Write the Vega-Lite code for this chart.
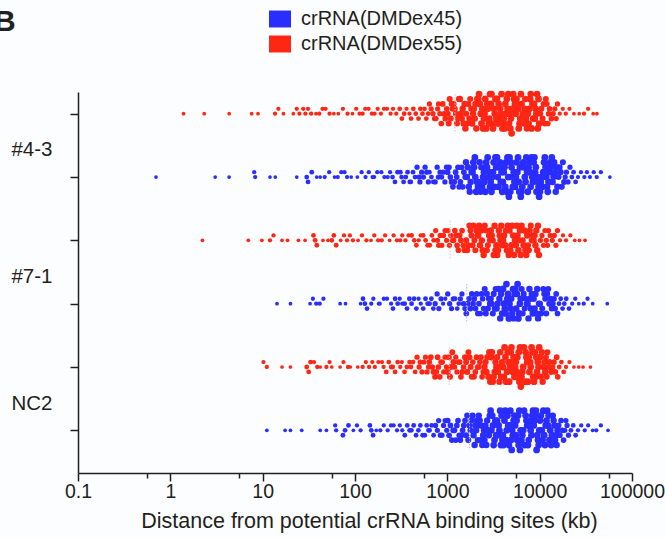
{
"$schema":"https://vega.github.io/schema/vega-lite/v6.json",
"width":554,"height":381,
"autosize":{"type":"none"},
"padding":{"left":78,"top":92,"right":33,"bottom":64},
"background":"#fcfdff",
"config":{"font":"Liberation Sans","view":{"stroke":null}},
"title":{"text":"B","anchor":"start","frame":"group","fontSize":30,"fontWeight":"bold","color":"#231f20","dx":-84,"dy":36,"offset":-23,"baseline":"bottom"},
"datasets":{
"r1":[{"kb":1.39},{"kb":2.33},{"kb":4.34},{"kb":7.6},{"kb":8.9},{"kb":13.6},{"kb":14.8},{"kb":16.8},{"kb":21.5},{"kb":23.4},{"kb":25},{"kb":27.5},{"kb":29},{"kb":31},{"kb":33.5},{"kb":37.8},{"kb":41},{"kb":44.5},{"kb":48},{"kb":53},{"kb":59},{"kb":66},{"kb":74},{"kb":83},{"kb":94},{"kb":103},{"kb":112},{"kb":121},{"kb":129},{"kb":140},{"kb":152},{"kb":163},{"kb":176},{"kb":191},{"kb":206},{"kb":222},{"kb":243},{"kb":258},{"kb":280},{"kb":305},{"kb":322},{"kb":341},{"kb":362},{"kb":389},{"kb":405},{"kb":428},{"kb":455},{"kb":487},{"kb":510},{"kb":538},{"kb":566},{"kb":592},{"kb":620},{"kb":640},{"kb":668},{"kb":699},{"kb":727},{"kb":755},{"kb":786},{"kb":802},{"kb":830},{"kb":861},{"kb":893},{"kb":921},{"kb":950},{"kb":985},{"kb":1012},{"kb":1035},{"kb":1061},{"kb":1089},{"kb":1115},{"kb":1142},{"kb":1170},{"kb":1203},{"kb":1238},{"kb":1270},{"kb":1302},{"kb":1335},{"kb":1367},{"kb":1400},{"kb":1433},{"kb":1468},{"kb":1502},{"kb":1537},{"kb":1570},{"kb":1600},{"kb":1645},{"kb":1690},{"kb":1725},{"kb":1770},{"kb":1812},{"kb":1858},{"kb":1900},{"kb":1942},{"kb":1985},{"kb":2015},{"kb":2062},{"kb":2110},{"kb":2158},{"kb":2205},{"kb":2250},{"kb":2300},{"kb":2345},{"kb":2395},{"kb":2440},{"kb":2490},{"kb":2530},{"kb":2575},{"kb":2640},{"kb":2702},{"kb":2738},{"kb":2810},{"kb":2846},{"kb":2905},{"kb":2968},{"kb":3005},{"kb":3081},{"kb":3127},{"kb":3190},{"kb":3260},{"kb":3320},{"kb":3390},{"kb":3450},{"kb":3520},{"kb":3590},{"kb":3660},{"kb":3730},{"kb":3800},{"kb":3870},{"kb":3950},{"kb":4010},{"kb":4090},{"kb":4170},{"kb":4250},{"kb":4330},{"kb":4410},{"kb":4490},{"kb":4570},{"kb":4650},{"kb":4730},{"kb":4810},{"kb":4890},{"kb":4970},{"kb":5060},{"kb":5170},{"kb":5280},{"kb":5390},{"kb":5500},{"kb":5610},{"kb":5720},{"kb":5830},{"kb":5940},{"kb":6050},{"kb":6160},{"kb":6270},{"kb":6380},{"kb":6530},{"kb":6680},{"kb":6830},{"kb":6980},{"kb":7130},{"kb":7280},{"kb":7430},{"kb":7580},{"kb":7730},{"kb":7880},{"kb":8010},{"kb":8180},{"kb":8350},{"kb":8520},{"kb":8690},{"kb":8860},{"kb":9030},{"kb":9200},{"kb":9370},{"kb":9540},{"kb":9710},{"kb":9880},{"kb":10150},{"kb":10450},{"kb":10750},{"kb":11050},{"kb":11350},{"kb":11650},{"kb":11950},{"kb":12250},{"kb":12500},{"kb":12800},{"kb":13400},{"kb":14000},{"kb":14600},{"kb":15100},{"kb":15600},{"kb":16500},{"kb":17800},{"kb":19200},{"kb":21000},{"kb":23500},{"kb":26800},{"kb":30200},{"kb":33500},{"kb":38000},{"kb":41700}],
"r2":[{"kb":0.7},{"kb":3.06},{"kb":4.33},{"kb":8.1},{"kb":8.3},{"kb":12},{"kb":13.7},{"kb":23.4},{"kb":30},{"kb":31},{"kb":34},{"kb":38.5},{"kb":42},{"kb":47},{"kb":52.5},{"kb":60},{"kb":65},{"kb":71},{"kb":77},{"kb":82},{"kb":91},{"kb":106},{"kb":118},{"kb":130},{"kb":141},{"kb":155},{"kb":161},{"kb":174},{"kb":193},{"kb":208},{"kb":226},{"kb":240},{"kb":255},{"kb":271},{"kb":289},{"kb":310},{"kb":320},{"kb":336},{"kb":355},{"kb":371},{"kb":392},{"kb":402},{"kb":425},{"kb":447},{"kb":470},{"kb":494},{"kb":505},{"kb":527},{"kb":551},{"kb":574},{"kb":598},{"kb":623},{"kb":640},{"kb":673},{"kb":705},{"kb":738},{"kb":776},{"kb":800},{"kb":834},{"kb":868},{"kb":902},{"kb":941},{"kb":979},{"kb":1008},{"kb":1042},{"kb":1078},{"kb":1112},{"kb":1150},{"kb":1189},{"kb":1230},{"kb":1265},{"kb":1305},{"kb":1344},{"kb":1385},{"kb":1428},{"kb":1470},{"kb":1512},{"kb":1560},{"kb":1592},{"kb":1630},{"kb":1668},{"kb":1710},{"kb":1748},{"kb":1790},{"kb":1830},{"kb":1872},{"kb":1915},{"kb":1950},{"kb":1988},{"kb":2008},{"kb":2054},{"kb":2098},{"kb":2150},{"kb":2195},{"kb":2240},{"kb":2292},{"kb":2338},{"kb":2385},{"kb":2430},{"kb":2482},{"kb":2520},{"kb":2580},{"kb":2628},{"kb":2685},{"kb":2735},{"kb":2790},{"kb":2842},{"kb":2898},{"kb":2950},{"kb":3005},{"kb":3060},{"kb":3120},{"kb":3175},{"kb":3245},{"kb":3318},{"kb":3380},{"kb":3448},{"kb":3512},{"kb":3584},{"kb":3650},{"kb":3722},{"kb":3790},{"kb":3864},{"kb":3935},{"kb":3995},{"kb":4078},{"kb":4160},{"kb":4238},{"kb":4320},{"kb":4402},{"kb":4480},{"kb":4565},{"kb":4640},{"kb":4722},{"kb":4805},{"kb":4880},{"kb":4960},{"kb":5030},{"kb":5125},{"kb":5230},{"kb":5330},{"kb":5425},{"kb":5530},{"kb":5625},{"kb":5730},{"kb":5828},{"kb":5930},{"kb":6025},{"kb":6130},{"kb":6240},{"kb":6350},{"kb":6490},{"kb":6620},{"kb":6760},{"kb":6900},{"kb":7030},{"kb":7170},{"kb":7300},{"kb":7440},{"kb":7580},{"kb":7710},{"kb":7860},{"kb":7980},{"kb":8140},{"kb":8300},{"kb":8450},{"kb":8610},{"kb":8770},{"kb":8930},{"kb":9090},{"kb":9240},{"kb":9400},{"kb":9560},{"kb":9720},{"kb":9870},{"kb":10080},{"kb":10290},{"kb":10500},{"kb":10720},{"kb":10930},{"kb":11150},{"kb":11370},{"kb":11590},{"kb":11800},{"kb":12020},{"kb":12240},{"kb":12460},{"kb":12700},{"kb":12980},{"kb":13260},{"kb":13540},{"kb":13820},{"kb":14100},{"kb":14380},{"kb":14660},{"kb":14940},{"kb":15220},{"kb":15550},{"kb":16000},{"kb":16450},{"kb":16900},{"kb":17350},{"kb":17850},{"kb":18400},{"kb":18900},{"kb":19500},{"kb":20300},{"kb":21300},{"kb":22300},{"kb":23300},{"kb":24500},{"kb":26000},{"kb":28000},{"kb":30500},{"kb":32500},{"kb":35000},{"kb":38500},{"kb":41500},{"kb":46000},{"kb":57600}],
"r3":[{"kb":2.23},{"kb":7},{"kb":9.8},{"kb":12},{"kb":13.1},{"kb":16.2},{"kb":18.6},{"kb":24.4},{"kb":28.8},{"kb":35.5},{"kb":37},{"kb":38.6},{"kb":45},{"kb":51},{"kb":56},{"kb":59},{"kb":62.5},{"kb":70},{"kb":76},{"kb":82},{"kb":88},{"kb":95},{"kb":108},{"kb":119},{"kb":133},{"kb":149},{"kb":162},{"kb":178},{"kb":195},{"kb":212},{"kb":237},{"kb":262},{"kb":284},{"kb":308},{"kb":325},{"kb":352},{"kb":380},{"kb":410},{"kb":438},{"kb":462},{"kb":490},{"kb":515},{"kb":547},{"kb":582},{"kb":612},{"kb":645},{"kb":680},{"kb":712},{"kb":748},{"kb":782},{"kb":805},{"kb":838},{"kb":872},{"kb":908},{"kb":945},{"kb":982},{"kb":1015},{"kb":1055},{"kb":1090},{"kb":1130},{"kb":1168},{"kb":1205},{"kb":1245},{"kb":1275},{"kb":1318},{"kb":1360},{"kb":1400},{"kb":1445},{"kb":1490},{"kb":1535},{"kb":1600},{"kb":1645},{"kb":1690},{"kb":1735},{"kb":1780},{"kb":1825},{"kb":1872},{"kb":1918},{"kb":1965},{"kb":2010},{"kb":2058},{"kb":2108},{"kb":2160},{"kb":2210},{"kb":2260},{"kb":2312},{"kb":2365},{"kb":2420},{"kb":2475},{"kb":2545},{"kb":2615},{"kb":2680},{"kb":2750},{"kb":2820},{"kb":2890},{"kb":2960},{"kb":3030},{"kb":3100},{"kb":3180},{"kb":3250},{"kb":3320},{"kb":3395},{"kb":3470},{"kb":3540},{"kb":3615},{"kb":3690},{"kb":3765},{"kb":3840},{"kb":3920},{"kb":4020},{"kb":4120},{"kb":4220},{"kb":4320},{"kb":4420},{"kb":4520},{"kb":4620},{"kb":4720},{"kb":4820},{"kb":4930},{"kb":5050},{"kb":5165},{"kb":5280},{"kb":5400},{"kb":5520},{"kb":5640},{"kb":5760},{"kb":5880},{"kb":6000},{"kb":6120},{"kb":6240},{"kb":6370},{"kb":6530},{"kb":6690},{"kb":6850},{"kb":7010},{"kb":7170},{"kb":7330},{"kb":7490},{"kb":7650},{"kb":7820},{"kb":8010},{"kb":8200},{"kb":8400},{"kb":8600},{"kb":8800},{"kb":9000},{"kb":9200},{"kb":9400},{"kb":9600},{"kb":9820},{"kb":10200},{"kb":10600},{"kb":11000},{"kb":11400},{"kb":11800},{"kb":12150},{"kb":12450},{"kb":13000},{"kb":13700},{"kb":14400},{"kb":15000},{"kb":15600},{"kb":16600},{"kb":17900},{"kb":19300},{"kb":21500},{"kb":24000},{"kb":27000},{"kb":31000}],
"r4":[{"kb":14.3},{"kb":20},{"kb":32.6},{"kb":35},{"kb":38},{"kb":41.5},{"kb":45.5},{"kb":69},{"kb":79},{"kb":115},{"kb":122},{"kb":128},{"kb":135},{"kb":150},{"kb":158},{"kb":180},{"kb":185},{"kb":205},{"kb":222},{"kb":246},{"kb":258},{"kb":272},{"kb":290},{"kb":305},{"kb":325},{"kb":345},{"kb":366},{"kb":388},{"kb":410},{"kb":436},{"kb":462},{"kb":488},{"kb":515},{"kb":548},{"kb":580},{"kb":612},{"kb":642},{"kb":672},{"kb":705},{"kb":738},{"kb":775},{"kb":810},{"kb":855},{"kb":900},{"kb":950},{"kb":1010},{"kb":1060},{"kb":1110},{"kb":1160},{"kb":1215},{"kb":1280},{"kb":1330},{"kb":1385},{"kb":1440},{"kb":1495},{"kb":1550},{"kb":1605},{"kb":1660},{"kb":1720},{"kb":1780},{"kb":1840},{"kb":1900},{"kb":1960},{"kb":2020},{"kb":2080},{"kb":2140},{"kb":2200},{"kb":2270},{"kb":2340},{"kb":2410},{"kb":2475},{"kb":2540},{"kb":2610},{"kb":2680},{"kb":2750},{"kb":2820},{"kb":2890},{"kb":2960},{"kb":3030},{"kb":3110},{"kb":3180},{"kb":3260},{"kb":3340},{"kb":3420},{"kb":3500},{"kb":3580},{"kb":3660},{"kb":3740},{"kb":3820},{"kb":3920},{"kb":4010},{"kb":4100},{"kb":4190},{"kb":4280},{"kb":4370},{"kb":4460},{"kb":4550},{"kb":4640},{"kb":4730},{"kb":4820},{"kb":4930},{"kb":5040},{"kb":5140},{"kb":5240},{"kb":5350},{"kb":5450},{"kb":5560},{"kb":5660},{"kb":5770},{"kb":5880},{"kb":5990},{"kb":6100},{"kb":6230},{"kb":6380},{"kb":6550},{"kb":6720},{"kb":6890},{"kb":7060},{"kb":7230},{"kb":7400},{"kb":7570},{"kb":7740},{"kb":7890},{"kb":8010},{"kb":8210},{"kb":8410},{"kb":8610},{"kb":8810},{"kb":9010},{"kb":9210},{"kb":9410},{"kb":9610},{"kb":9830},{"kb":10100},{"kb":10380},{"kb":10660},{"kb":10940},{"kb":11220},{"kb":11500},{"kb":11780},{"kb":12060},{"kb":12380},{"kb":12700},{"kb":13100},{"kb":13500},{"kb":13900},{"kb":14300},{"kb":14700},{"kb":15100},{"kb":15600},{"kb":16200},{"kb":16900},{"kb":17700},{"kb":18500},{"kb":19400},{"kb":20800},{"kb":22500},{"kb":24300},{"kb":26500},{"kb":30000},{"kb":33000},{"kb":37500},{"kb":54000}],
"r5":[{"kb":10.2},{"kb":11.1},{"kb":16.2},{"kb":20},{"kb":30},{"kb":31.5},{"kb":33},{"kb":36},{"kb":39},{"kb":42},{"kb":49},{"kb":53},{"kb":56},{"kb":69},{"kb":75},{"kb":84},{"kb":89},{"kb":107},{"kb":121},{"kb":131},{"kb":142},{"kb":154},{"kb":164},{"kb":179},{"kb":196},{"kb":204},{"kb":218},{"kb":232},{"kb":247},{"kb":256},{"kb":272},{"kb":290},{"kb":309},{"kb":322},{"kb":344},{"kb":365},{"kb":390},{"kb":404},{"kb":425},{"kb":448},{"kb":470},{"kb":495},{"kb":508},{"kb":532},{"kb":556},{"kb":580},{"kb":603},{"kb":626},{"kb":638},{"kb":662},{"kb":686},{"kb":710},{"kb":735},{"kb":760},{"kb":785},{"kb":800},{"kb":828},{"kb":856},{"kb":885},{"kb":915},{"kb":945},{"kb":978},{"kb":1008},{"kb":1038},{"kb":1068},{"kb":1100},{"kb":1132},{"kb":1165},{"kb":1198},{"kb":1235},{"kb":1270},{"kb":1315},{"kb":1360},{"kb":1405},{"kb":1450},{"kb":1500},{"kb":1550},{"kb":1598},{"kb":1645},{"kb":1692},{"kb":1740},{"kb":1790},{"kb":1840},{"kb":1890},{"kb":1948},{"kb":2010},{"kb":2070},{"kb":2130},{"kb":2190},{"kb":2250},{"kb":2315},{"kb":2380},{"kb":2450},{"kb":2525},{"kb":2590},{"kb":2655},{"kb":2720},{"kb":2785},{"kb":2850},{"kb":2915},{"kb":2980},{"kb":3045},{"kb":3110},{"kb":3180},{"kb":3250},{"kb":3320},{"kb":3390},{"kb":3460},{"kb":3530},{"kb":3600},{"kb":3670},{"kb":3740},{"kb":3810},{"kb":3900},{"kb":4000},{"kb":4085},{"kb":4170},{"kb":4255},{"kb":4340},{"kb":4425},{"kb":4510},{"kb":4595},{"kb":4680},{"kb":4765},{"kb":4850},{"kb":4940},{"kb":5030},{"kb":5130},{"kb":5230},{"kb":5330},{"kb":5430},{"kb":5530},{"kb":5630},{"kb":5730},{"kb":5830},{"kb":5930},{"kb":6030},{"kb":6130},{"kb":6250},{"kb":6350},{"kb":6490},{"kb":6630},{"kb":6770},{"kb":6910},{"kb":7050},{"kb":7190},{"kb":7330},{"kb":7470},{"kb":7610},{"kb":7750},{"kb":7890},{"kb":8000},{"kb":8170},{"kb":8340},{"kb":8510},{"kb":8680},{"kb":8850},{"kb":9020},{"kb":9190},{"kb":9360},{"kb":9530},{"kb":9700},{"kb":9880},{"kb":10080},{"kb":10310},{"kb":10540},{"kb":10770},{"kb":11000},{"kb":11230},{"kb":11460},{"kb":11690},{"kb":11920},{"kb":12150},{"kb":12400},{"kb":12800},{"kb":13300},{"kb":13800},{"kb":14300},{"kb":14800},{"kb":15300},{"kb":15700},{"kb":16300},{"kb":17200},{"kb":18200},{"kb":19300},{"kb":21000},{"kb":23500},{"kb":26500},{"kb":29500},{"kb":35500}],
"r6":[{"kb":11.1},{"kb":17.5},{"kb":20},{"kb":26.5},{"kb":42},{"kb":49},{"kb":61},{"kb":62.5},{"kb":74},{"kb":78},{"kb":85},{"kb":96},{"kb":105},{"kb":115},{"kb":145},{"kb":150},{"kb":157},{"kb":170},{"kb":188},{"kb":205},{"kb":226},{"kb":245},{"kb":262},{"kb":285},{"kb":306},{"kb":325},{"kb":346},{"kb":368},{"kb":390},{"kb":408},{"kb":432},{"kb":458},{"kb":486},{"kb":510},{"kb":540},{"kb":570},{"kb":598},{"kb":625},{"kb":642},{"kb":676},{"kb":710},{"kb":745},{"kb":780},{"kb":805},{"kb":840},{"kb":875},{"kb":910},{"kb":948},{"kb":985},{"kb":1010},{"kb":1045},{"kb":1080},{"kb":1118},{"kb":1155},{"kb":1195},{"kb":1235},{"kb":1268},{"kb":1305},{"kb":1345},{"kb":1385},{"kb":1425},{"kb":1465},{"kb":1508},{"kb":1555},{"kb":1595},{"kb":1640},{"kb":1685},{"kb":1730},{"kb":1778},{"kb":1825},{"kb":1875},{"kb":1925},{"kb":1975},{"kb":2008},{"kb":2052},{"kb":2098},{"kb":2145},{"kb":2192},{"kb":2240},{"kb":2290},{"kb":2340},{"kb":2392},{"kb":2442},{"kb":2495},{"kb":2528},{"kb":2586},{"kb":2644},{"kb":2702},{"kb":2760},{"kb":2820},{"kb":2880},{"kb":2940},{"kb":3000},{"kb":3062},{"kb":3125},{"kb":3175},{"kb":3245},{"kb":3315},{"kb":3385},{"kb":3455},{"kb":3525},{"kb":3595},{"kb":3665},{"kb":3735},{"kb":3805},{"kb":3875},{"kb":3950},{"kb":3995},{"kb":4075},{"kb":4155},{"kb":4235},{"kb":4320},{"kb":4400},{"kb":4480},{"kb":4565},{"kb":4645},{"kb":4725},{"kb":4810},{"kb":4890},{"kb":4975},{"kb":5030},{"kb":5125},{"kb":5225},{"kb":5320},{"kb":5420},{"kb":5520},{"kb":5620},{"kb":5720},{"kb":5820},{"kb":5920},{"kb":6020},{"kb":6120},{"kb":6230},{"kb":6350},{"kb":6490},{"kb":6630},{"kb":6770},{"kb":6910},{"kb":7050},{"kb":7190},{"kb":7330},{"kb":7470},{"kb":7610},{"kb":7750},{"kb":7880},{"kb":7990},{"kb":8150},{"kb":8310},{"kb":8470},{"kb":8630},{"kb":8790},{"kb":8950},{"kb":9110},{"kb":9270},{"kb":9430},{"kb":9590},{"kb":9750},{"kb":9900},{"kb":10090},{"kb":10310},{"kb":10530},{"kb":10750},{"kb":10970},{"kb":11190},{"kb":11410},{"kb":11630},{"kb":11850},{"kb":12070},{"kb":12290},{"kb":12510},{"kb":12750},{"kb":13030},{"kb":13310},{"kb":13590},{"kb":13870},{"kb":14150},{"kb":14430},{"kb":14710},{"kb":14990},{"kb":15270},{"kb":15600},{"kb":16050},{"kb":16550},{"kb":17050},{"kb":17600},{"kb":18150},{"kb":18700},{"kb":19250},{"kb":19800},{"kb":20500},{"kb":21800},{"kb":23100},{"kb":24500},{"kb":26000},{"kb":28200},{"kb":30800},{"kb":33500},{"kb":37500},{"kb":41000},{"kb":46000},{"kb":55000}],
"med":[{"row":1,"kb":1210},{"row":3,"kb":1070},{"row":4,"kb":1620},{"row":5,"kb":1050},{"row":6,"kb":1740}]
},
"layer":[
{"mark":{"type":"rule","color":"#6cc47c","strokeWidth":2},"encoding":{"x":{"datum":5.4,"type":"quantitative"}}},
{"encoding":{
 "x":{"field":"kb","type":"quantitative","scale":{"type":"log","domain":[0.1,100000],"nice":false},
  "axis":{"values":[0.1,0.557,1,5.57,10,55.7,100,557,1000,5570,10000,55700,100000],
   "labelExpr":"abs(log(datum.value)/LN10-round(log(datum.value)/LN10))<0.01 ? ''+datum.value : ''",
   "tickSize":{"condition":{"test":"abs(log(datum.value)/LN10-round(log(datum.value)/LN10))<0.01","value":8},"value":5},
   "title":"Distance from potential crRNA binding sites (kb)","grid":false,"domainColor":"#231f20","domainWidth":1.5,"tickColor":"#231f20","tickWidth":1.5,
   "labelFontSize":19.5,"labelColor":"#231f20","labelPadding":1,"labelFlush":false,"labelOverlap":false,
   "titleFontSize":21.5,"titleFontWeight":"normal","titleColor":"#231f20","titleX":291,"titleY":54,"titleBaseline":"alphabetic","titleAlign":"center"}},
 "y":{"field":"y","type":"quantitative","scale":{"domain":[0.657,6.674],"reverse":true,"nice":false,"zero":false},
  "axis":{"values":[1,2,3,4,5,6],"labelExpr":"datum.value==1?'#4-3':datum.value==3?'#7-1':datum.value==5?'NC2':''",
   "labelOffset":36,"tickSize":8,"labelPadding":18,"title":null,"grid":false,"domainColor":"#231f20","domainWidth":1.5,"tickColor":"#231f20","tickWidth":1.5,
   "labelFontSize":20.5,"labelColor":"#231f20"}},
 "size":{"field":"n","type":"quantitative","scale":{"domain":[1,8],"range":[14,46],"clamp":true},"legend":null}
 },
 "layer":[
 {"data":{"name":"r1"},"transform":[{"calculate":"floor(log(datum.kb)/LN10*15)","as":"b"},{"calculate":"(datum.kb*7.77)%1","as":"k"},{"joinaggregate":[{"op":"count","as":"n"}],"groupby":["b"]},{"window":[{"op":"row_number","as":"rn"}],"groupby":["b"],"sort":[{"field":"k"}]},{"calculate":"1+(datum.rn%2==1?(datum.rn-1)/2:-datum.rn/2)*0.0774","as":"y"}],
  "mark":{"type":"circle","opacity":1},
  "encoding":{"color":{"datum":"crRNA(DMDex55)","type":"nominal","scale":{"domain":["crRNA(DMDex45)","crRNA(DMDex55)"],"range":["#2a2dff","#ff2614"]},
   "legend":{"orient":"none","legendX":191,"legendY":-84,"title":null,"symbolType":"M-1,-0.77H1V0.77H-1Z","symbolSize":484,"symbolOpacity":1,"symbolStrokeWidth":0,"labelFontSize":20,"labelLimit":400,"labelOffset":10,"rowPadding":4,"labelColor":"#231f20","padding":0}}}},
 {"data":{"name":"r2"},"transform":[{"calculate":"floor(log(datum.kb)/LN10*15)","as":"b"},{"calculate":"(datum.kb*7.77)%1","as":"k"},{"joinaggregate":[{"op":"count","as":"n"}],"groupby":["b"]},{"window":[{"op":"row_number","as":"rn"}],"groupby":["b"],"sort":[{"field":"k"}]},{"calculate":"2+(datum.rn%2==1?(datum.rn-1)/2:-datum.rn/2)*0.0774","as":"y"}],
  "mark":{"type":"circle","opacity":1},"encoding":{"color":{"datum":"crRNA(DMDex45)","type":"nominal"}}},
 {"data":{"name":"r3"},"transform":[{"calculate":"floor(log(datum.kb)/LN10*15)","as":"b"},{"calculate":"(datum.kb*7.77)%1","as":"k"},{"joinaggregate":[{"op":"count","as":"n"}],"groupby":["b"]},{"window":[{"op":"row_number","as":"rn"}],"groupby":["b"],"sort":[{"field":"k"}]},{"calculate":"3+(datum.rn%2==1?(datum.rn-1)/2:-datum.rn/2)*0.0774","as":"y"}],
  "mark":{"type":"circle","opacity":1},"encoding":{"color":{"datum":"crRNA(DMDex55)","type":"nominal"}}},
 {"data":{"name":"r4"},"transform":[{"calculate":"floor(log(datum.kb)/LN10*15)","as":"b"},{"calculate":"(datum.kb*7.77)%1","as":"k"},{"joinaggregate":[{"op":"count","as":"n"}],"groupby":["b"]},{"window":[{"op":"row_number","as":"rn"}],"groupby":["b"],"sort":[{"field":"k"}]},{"calculate":"4+(datum.rn%2==1?(datum.rn-1)/2:-datum.rn/2)*0.0774","as":"y"}],
  "mark":{"type":"circle","opacity":1},"encoding":{"color":{"datum":"crRNA(DMDex45)","type":"nominal"}}},
 {"data":{"name":"r5"},"transform":[{"calculate":"floor(log(datum.kb)/LN10*15)","as":"b"},{"calculate":"(datum.kb*7.77)%1","as":"k"},{"joinaggregate":[{"op":"count","as":"n"}],"groupby":["b"]},{"window":[{"op":"row_number","as":"rn"}],"groupby":["b"],"sort":[{"field":"k"}]},{"calculate":"5+(datum.rn%2==1?(datum.rn-1)/2:-datum.rn/2)*0.0774","as":"y"}],
  "mark":{"type":"circle","opacity":1},"encoding":{"color":{"datum":"crRNA(DMDex55)","type":"nominal"}}},
 {"data":{"name":"r6"},"transform":[{"calculate":"floor(log(datum.kb)/LN10*15)","as":"b"},{"calculate":"(datum.kb*7.77)%1","as":"k"},{"joinaggregate":[{"op":"count","as":"n"}],"groupby":["b"]},{"window":[{"op":"row_number","as":"rn"}],"groupby":["b"],"sort":[{"field":"k"}]},{"calculate":"6+(datum.rn%2==1?(datum.rn-1)/2:-datum.rn/2)*0.0774","as":"y"}],
  "mark":{"type":"circle","opacity":1},"encoding":{"color":{"datum":"crRNA(DMDex45)","type":"nominal"}}}
 ]
},
{"data":{"name":"med"},"transform":[{"calculate":"datum.row-0.31","as":"y1"},{"calculate":"datum.row+0.31","as":"y2"}],
 "mark":{"type":"rule","strokeWidth":1,"strokeDash":[1.5,1.5]},
 "encoding":{"x":{"field":"kb","type":"quantitative"},"y":{"field":"y1","type":"quantitative"},"y2":{"field":"y2"},
  "color":{"condition":{"test":"datum.row%2==1","value":"#f7b8b0"},"value":"#b3b3ff"}}}
]
}
